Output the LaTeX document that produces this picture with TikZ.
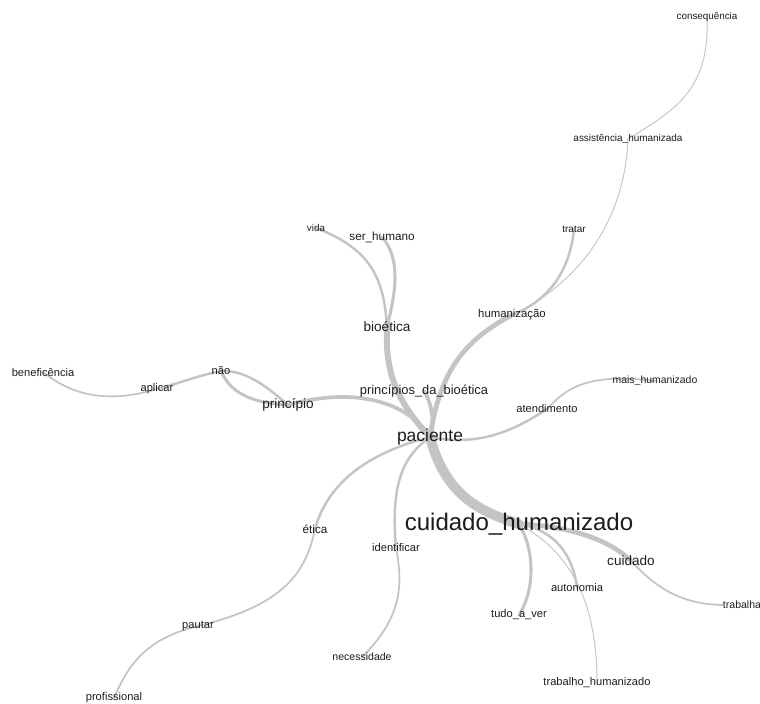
\documentclass[tikz,border=0pt]{standalone}
\usepackage{fontspec}
\setmainfont{Liberation Sans}
\usepackage{xcolor}
\usepackage{tikz}
\usetikzlibrary{backgrounds}
\definecolor{ink}{HTML}{1C1C1C}
\definecolor{edgegray}{HTML}{C4C4C4}
\newcommand{\wsize}[1]{\fontsize{#1}{#1}\selectfont}

\begin{document}
\begin{tikzpicture}[x=0.03cm, y=-0.03cm]
  \tikzstyle{wrd}=[inner sep=0pt, text=ink, font=\wsize{9.5}]
  \tikzstyle{lnk}=[draw=edgegray, line cap=round]
  \tikzstyle{lk1}=[lnk, line width=0.8pt]
  \tikzstyle{lk2}=[lnk, line width=1.5pt]
  \tikzstyle{lk3}=[lnk, line width=2.1pt]
  \tikzstyle{lk4}=[lnk, line width=2.6pt]
  \tikzstyle{lk5}=[lnk, line width=3.2pt]
  \tikzstyle{lk6}=[lnk, line width=4.1pt]
  \tikzstyle{lk7}=[lnk, line width=5.1pt]
  \tikzstyle{lk8}=[lnk, line width=8.5pt]
  \useasboundingbox (0,0) rectangle (760,704);
  \node[wrd, font=\wsize{8.4}](csq) at (707,17){consequência};
  \node[wrd, font=\wsize{8.5}](asb) at (628,139){assistência\_humanizada};
  \node[wrd, font=\wsize{8.5}](trt) at (574,229){tratar};
  \node[wrd, font=\wsize{9.7}](hmz) at (512,315){humanização};
  \node[wrd, font=\wsize{8.4}](vid) at (316,228){vida};
  \node[wrd, font=\wsize{10}](sh) at (382,237){ser\_humano};
  \node[wrd, font=\wsize{11.6}](bio) at (387,327){bioética};
  \node[wrd, font=\wsize{11}](pdb) at (424,391){princípios\_da\_bioética};
  \node[wrd, font=\wsize{14.9}](pac) at (430,437){paciente};
  \node[wrd](nao) at (221,371){não};
  \node[wrd](apl) at (157,389){aplicar};
  \node[wrd](ben) at (43,372){beneficência};
  \node[wrd, font=\wsize{11.6}](pri) at (288,405){princípio};
  \node[wrd](atd) at (547,409){atendimento};
  \node[wrd, font=\wsize{8.9}](mh) at (655,381){mais\_humanizado};
  \node[wrd, font=\wsize{20.5}](ch) at (519,524){cuidado\_humanizado};
  \node[wrd, font=\wsize{11.6}](cui) at (631,561){cuidado};
  \node[wrd, font=\wsize{9}](trb) at (742,605){trabalha};
  \node[wrd](aut) at (577,588){autonomia};
  \node[wrd](tav) at (519,615){tudo\_a\_ver};
  \node[wrd](th) at (597,683){trabalho\_humanizado};
  \node[wrd, font=\wsize{10}](eti) at (315,529){ética};
  \node[wrd](pau) at (198,626){pautar};
  \node[wrd](prf) at (114,698){profissional};
  \node[wrd](idf) at (396,548){identificar};
  \node[wrd, font=\wsize{9}](nec) at (362,657){necessidade};
  \begin{scope}[on background layer]
    \draw[lk8](pac.center) .. controls (445,495) and (480,512) .. (ch.center);
    \draw[lk6](ch.center) .. controls (570,526) and (610,540) .. (cui.center);
    \draw[lk2](cui.center) .. controls (660,592) and (685,604) .. (trb.west);
    \draw[lk4](ch.center) .. controls (535,550) and (535,590) .. (tav.center);
    \draw[lk3](ch.center) .. controls (555,530) and (573,555) .. (aut.center);
    \draw[lk1](ch.center) .. controls (570,552) and (597,600) .. (th.center);
    \draw[lk3](pac.center) .. controls (380,450) and (330,475) .. (eti.center);
    \draw[lk2](eti.center) .. controls (306,572) and (285,605) .. (pau.center);
    \draw[lk2](pau.center) .. controls (150,638) and (130,660) .. (prf.center);
    \draw[lk3](pac.center) .. controls (405,455) and (390,480) .. (idf.center);
    \draw[lk2](idf.center) .. controls (402,580) and (405,615) .. (nec.center);
    \draw[lk5](pac.center) .. controls (410,405) and (360,385) .. (pri.center);
    \draw[lk4](nao.center) .. controls (230,392) and (250,403) .. (pri.center);
    \draw[lk3](nao.center) .. controls (245,370) and (265,385) .. (pri.center);
    \draw[lk3](nao.center) .. controls (200,375) and (180,383) .. (apl.center);
    \draw[lk2](apl.center) .. controls (120,400) and (80,402) .. (ben.center);
    \draw[lk5](pac.center) .. controls (436,420) and (430,400) .. (pdb.center);
    \draw[lk7](pac.center) .. controls (395,400) and (385,370) .. (bio.center);
    \draw[lk3](bio.center) .. controls (384,275) and (368,248) .. (vid.center);
    \draw[lk4](bio.center) .. controls (395,295) and (402,260) .. (sh.center);
    \draw[lk6](pac.center) .. controls (440,370) and (465,340) .. (hmz.center);
    \draw[lk3](hmz.center) .. controls (550,300) and (570,270) .. (trt.center);
    \draw[lk1](hmz.center) .. controls (585,280) and (625,215) .. (asb.center);
    \draw[lk1](asb.center) .. controls (675,110) and (710,90) .. (csq.center);
    \draw[lk3](pac.center) .. controls (480,447) and (515,430) .. (atd.center);
    \draw[lk2](atd.center) .. controls (565,390) and (585,372) .. (mh.center);
  \end{scope}
\end{tikzpicture}
\end{document}
